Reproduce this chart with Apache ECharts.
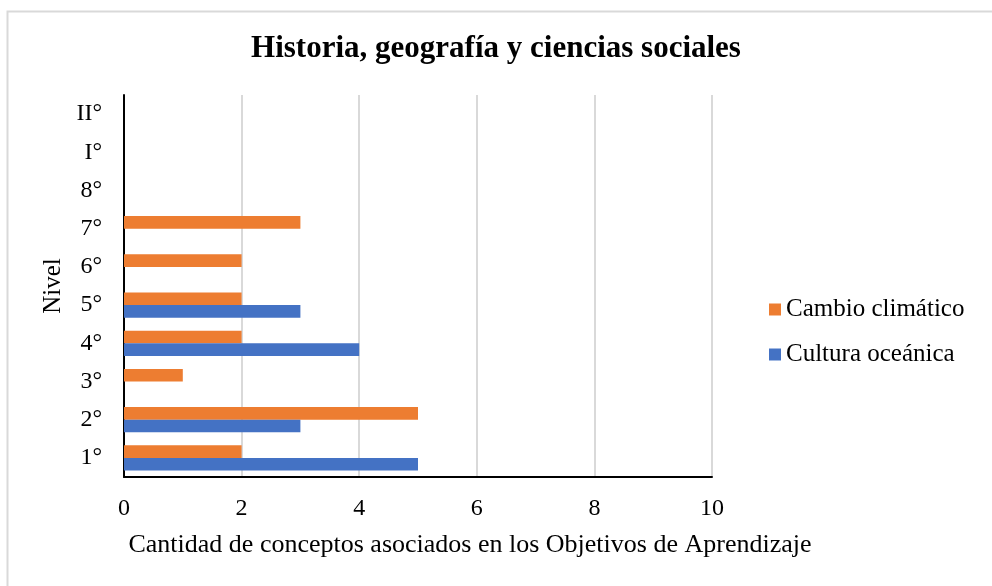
<!DOCTYPE html>
<html>
<head>
<meta charset="utf-8">
<script src="https://cdn.jsdelivr.net/npm/echarts@6/dist/echarts.min.js"></script>
<style>
  html, body { margin: 0; padding: 0; background: #fff; }
  #chart { width: 992px; height: 586px; }
</style>
</head>
<body>
<div id="chart"></div>
<script>
const levels = ["1°", "2°", "3°", "4°", "5°", "6°", "7°", "8°", "I°", "II°"];
const cambioClimatico = [2, 5, 1, 2, 2, 2, 3, 0, 0, 0];
const culturaOceanica = [5, 3, 0, 4, 3, 0, 0, 0, 0, 0];
const xTicks = { min: 0, max: 10, interval: 2 };

const serif = "'Liberation Serif', 'Times New Roman', serif";

const chart = echarts.init(document.querySelector("#chart"));
chart.setOption({
  animation: false,
  backgroundColor: "#fff",
  graphic: [{
    type: "rect",
    left: 5, top: 9,
    shape: { width: 986, height: 600 },
    style: { fill: "none", stroke: "#d9d9d9", lineWidth: 2 },
    silent: true,
  }],
  title: {
    text: "Historia, geografía y ciencias sociales",
    left: "center",
    top: 28,
    textStyle: { fontFamily: serif, fontSize: 31, fontWeight: "bold", color: "#000" },
  },
  legend: {
    orient: "vertical",
    left: 764,
    top: 292,
    itemWidth: 12,
    itemHeight: 12,
    itemGap: 20,
    icon: "rect",
    data: ["Cambio climático", "Cultura oceánica"],
    textStyle: { fontFamily: serif, fontSize: 25, color: "#000" },
  },
  grid: { left: 124, right: 280, top: 95, bottom: 109 },
  xAxis: {
    type: "value",
    min: xTicks.min,
    max: xTicks.max,
    interval: xTicks.interval,
    name: "Cantidad de conceptos asociados en los Objetivos de Aprendizaje",
    nameLocation: "middle",
    nameGap: 55,
    nameTextStyle: { fontFamily: serif, fontSize: 26, color: "#000", padding: [0, 0, 0, 104] },
    axisLine: { show: true, lineStyle: { color: "#000", width: 2 } },
    axisTick: { show: false },
    axisLabel: { fontFamily: serif, fontSize: 24, color: "#000", margin: 20 },
    splitLine: { show: true, lineStyle: { color: "#d9d9d9", width: 2 } },
  },
  yAxis: {
    type: "category",
    data: levels,
    name: "Nivel",
    nameLocation: "middle",
    nameGap: 58,
    nameTextStyle: { fontFamily: serif, fontSize: 25, color: "#000" },
    axisLine: { show: true, lineStyle: { color: "#000", width: 2 } },
    axisTick: { show: false },
    axisLabel: { fontFamily: serif, fontSize: 24, color: "#000", margin: 22 },
  },
  series: [
    {
      name: "Cambio climático",
      type: "bar",
      data: cambioClimatico,
      itemStyle: { color: "#ED7D31" },
      barGap: "0%",
      barCategoryGap: "34%",
    },
    {
      name: "Cultura oceánica",
      type: "bar",
      data: culturaOceanica,
      itemStyle: { color: "#4472C4" },
      barGap: "0%",
      barCategoryGap: "34%",
    },
  ],
});
</script>
</body>
</html>
